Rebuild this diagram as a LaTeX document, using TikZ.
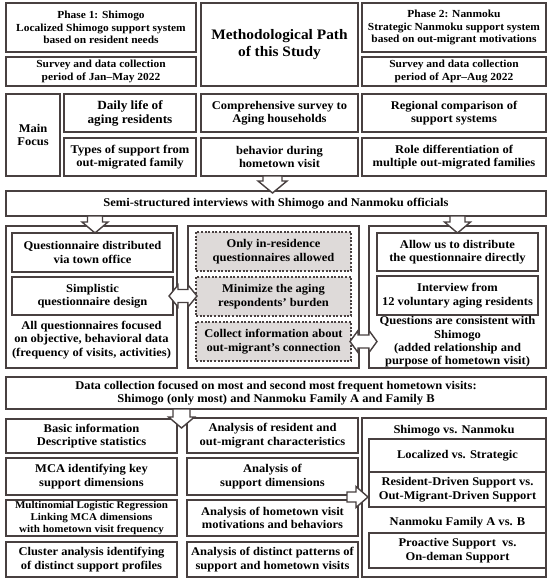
\documentclass[tikz,border=0pt]{standalone}
\usepackage{fontspec}
\setmainfont{Liberation Serif}[FakeStretch=1.06]
\definecolor{ln}{RGB}{72,64,64}
\definecolor{dg}{RGB}{222,218,217}
\tikzset{
  bx/.style={draw=ln, line width=1.5pt, fill=white, inner sep=0pt, align=center,
    font=\bfseries\fontsize{11.8}{13.5}\selectfont},
  sz/.style 2 args={minimum width=#1, minimum height=#2},
  dbx/.style={draw=ln, line width=1.2pt, dash pattern=on 2pt off 1.6pt, fill=dg, inner sep=0pt, align=center,
    font=\bfseries\fontsize{11.8}{13.5}\selectfont},
  txt/.style={inner sep=0pt, align=center, font=\bfseries\fontsize{11.8}{13.5}\selectfont},
  small/.style={font=\bfseries\fontsize{10.8}{12.5}\selectfont},
  blk/.style={draw=ln, line width=1.4pt, fill=white, line join=miter}
}
\begin{document}
\begin{tikzpicture}[x=1pt,y=-1pt]
\useasboundingbox (0,0) rectangle (550,582);
% top row
\node[bx, sz={190}{49}, small] (phase1) at (101,27.5) {Phase 1: Shimogo\\Localized Shimogo support system\\based on resident needs};
\node[bx, sz={190}{29}, small] (survey1) at (101,71.5) {Survey and data collection\\period of Jan–May 2022};
\node[bx, sz={157}{83}, font=\bfseries\fontsize{14.5}{17}\selectfont] (method) at (279.5,44.5) {Methodological Path\\of this Study};
\node[bx, sz={184}{49}, small] (phase2) at (454,27.5) {Phase 2: Nanmoku\\Strategic Nanmoku support system\\based on out-migrant motivations};
\node[bx, sz={184}{29}, small] (survey2) at (454,71.5) {Survey and data collection\\period of Apr–Aug 2022};
% main focus
\node[bx, sz={54}{82}] (focus) at (33,135) {Main\\Focus};
\node[bx, sz={132}{38}, font=\bfseries\fontsize{12.5}{14}\selectfont] (daily) at (130,113) {Daily life of\\aging residents};
\node[bx, sz={132}{38}] (types) at (130,157) {Types of support from\\out-migrated family};
\node[bx, sz={157}{38}] (comp) at (279.5,113) {Comprehensive survey to\\Aging households};
\node[bx, sz={157}{38}] (behav) at (279.5,157) {behavior during\\hometown visit};
\node[bx, sz={184}{38}] (regional) at (454,113) {Regional comparison of\\support systems};
\node[bx, sz={184}{38}] (role) at (454,157) {Role differentiation of\\multiple out-migrated families};
% semi structured
\node[bx, sz={540}{25}] (semi) at (276,203.5) {Semi-structured interviews with Shimogo and Nanmoku officials};
% panels
\node[bx, sz={171}{142}] (lpanel) at (91.5,297) {};
\node[bx, sz={171}{142}] (mpanel) at (273.5,297) {};
\node[bx, sz={177}{142}] (rpanel) at (457.5,297) {};
\node[bx, sz={161}{39}] (qdist) at (92.5,252.5) {Questionnaire distributed\\via town office};
\node[bx, sz={161}{38}] (simpl) at (92.5,296) {Simplistic\\questionnaire design};
\node[txt] (alltxt) at (91.5,340) {All questionnaires focused\\on objective, behavioral data\\(frequency of visits, activities)};
\node[dbx, sz={155}{39}] (d1) at (273.5,251.5) {Only in-residence\\questionnaires allowed};
\node[dbx, sz={155}{39}] (d2) at (273.5,296.5) {Minimize the aging\\respondents’ burden};
\node[dbx, sz={155}{39}] (d3) at (273.5,341.5) {Collect information about\\out-migrant’s connection};
\node[bx, sz={161}{38}] (allow) at (457.5,252) {Allow us to distribute\\the questionnaire directly};
\node[bx, sz={161}{39}] (interv) at (457.5,295.5) {Interview from\\12 voluntary aging residents};
\node[txt, font=\bfseries\fontsize{11.8}{13.3}\selectfont] (qtxt) at (457.5,342) {Questions are consistent with\\Shimogo\\(added relationship and\\purpose of hometown visit)};
% data collection
\node[bx, sz={540}{32}] (data) at (276,393) {Data collection focused on most and second most frequent hometown visits:\\Shimogo (only most) and Nanmoku Family A and Family B};
% bottom left column
\node[bx, sz={171}{34}] (basic) at (91.5,436) {Basic information\\Descriptive statistics};
\node[bx, sz={171}{37}] (mca) at (91.5,476.5) {MCA identifying key\\support dimensions};
\node[bx, sz={171}{36}, font=\bfseries\fontsize{10.4}{12}\selectfont] (multi) at (91.5,518) {Multinomial Logistic Regression\\Linking MCA dimensions\\with hometown visit frequency};
\node[bx, sz={171}{35}] (cluster) at (91.5,559.5) {Cluster analysis identifying\\of distinct support profiles};
% bottom middle column
\node[bx, sz={171}{35}] (ares) at (272.5,435.5) {Analysis of resident and\\out-migrant characteristics};
\node[bx, sz={171}{37}] (asup) at (272.5,476.5) {Analysis of\\support dimensions};
\node[bx, sz={171}{36}] (ahome) at (272.5,518) {Analysis of hometown visit\\motivations and behaviors};
\node[bx, sz={171}{35}] (adist) at (272.5,559.5) {Analysis of distinct patterns of\\support and hometown visits};
% bottom right
\node[bx, sz={184}{159}] (rout) at (454,497.5) {};
\node[txt] (shvn) at (454,431) {Shimogo vs. Nanmoku};
\node[bx, sz={177}{33}] (loc) at (457.5,455.5) {Localized vs. Strategic};
\node[bx, sz={177}{35}] (resdr) at (457.5,489.5) {Resident-Driven Support vs.\\Out-Migrant-Driven Support};
\node[txt] (fam) at (457.5,523) {Nanmoku Family A vs. B};
\node[bx, sz={177}{35}] (proac) at (457.5,550.5) {Proactive Support~ vs.\\On-deman Support};
% block arrows
\draw[blk] (263,176) -- (263,181) -- (258,181) -- (272.5,193) -- (287,181) -- (282,181) -- (282,176) -- cycle;
\draw[blk] (87.5,216) -- (87.5,222) -- (82,222) -- (95,233) -- (108,222) -- (102.5,222) -- (102.5,216) -- cycle;
\draw[blk] (450,216) -- (450,222) -- (444.5,222) -- (457.5,233) -- (470.5,222) -- (465,222) -- (465,216) -- cycle;
\draw[blk] (173,409) -- (173,417) -- (168.5,417) -- (181.5,428) -- (194.5,417) -- (190,417) -- (190,409) -- cycle;
\draw[blk] (169,296) -- (178,285) -- (178,289.5) -- (188,289.5) -- (188,285) -- (197,296) -- (188,307) -- (188,302.5) -- (178,302.5) -- (178,307) -- cycle;
\draw[blk] (350,341.5) -- (358,330.5) -- (358,335) -- (369,335) -- (369,330.5) -- (377,341.5) -- (369,352.5) -- (369,348) -- (358,348) -- (358,352.5) -- cycle;
\draw[blk] (347,492) -- (356,492) -- (356,486.5) -- (368,497) -- (356,507.5) -- (356,502) -- (347,502) -- cycle;
\end{tikzpicture}
\end{document}
